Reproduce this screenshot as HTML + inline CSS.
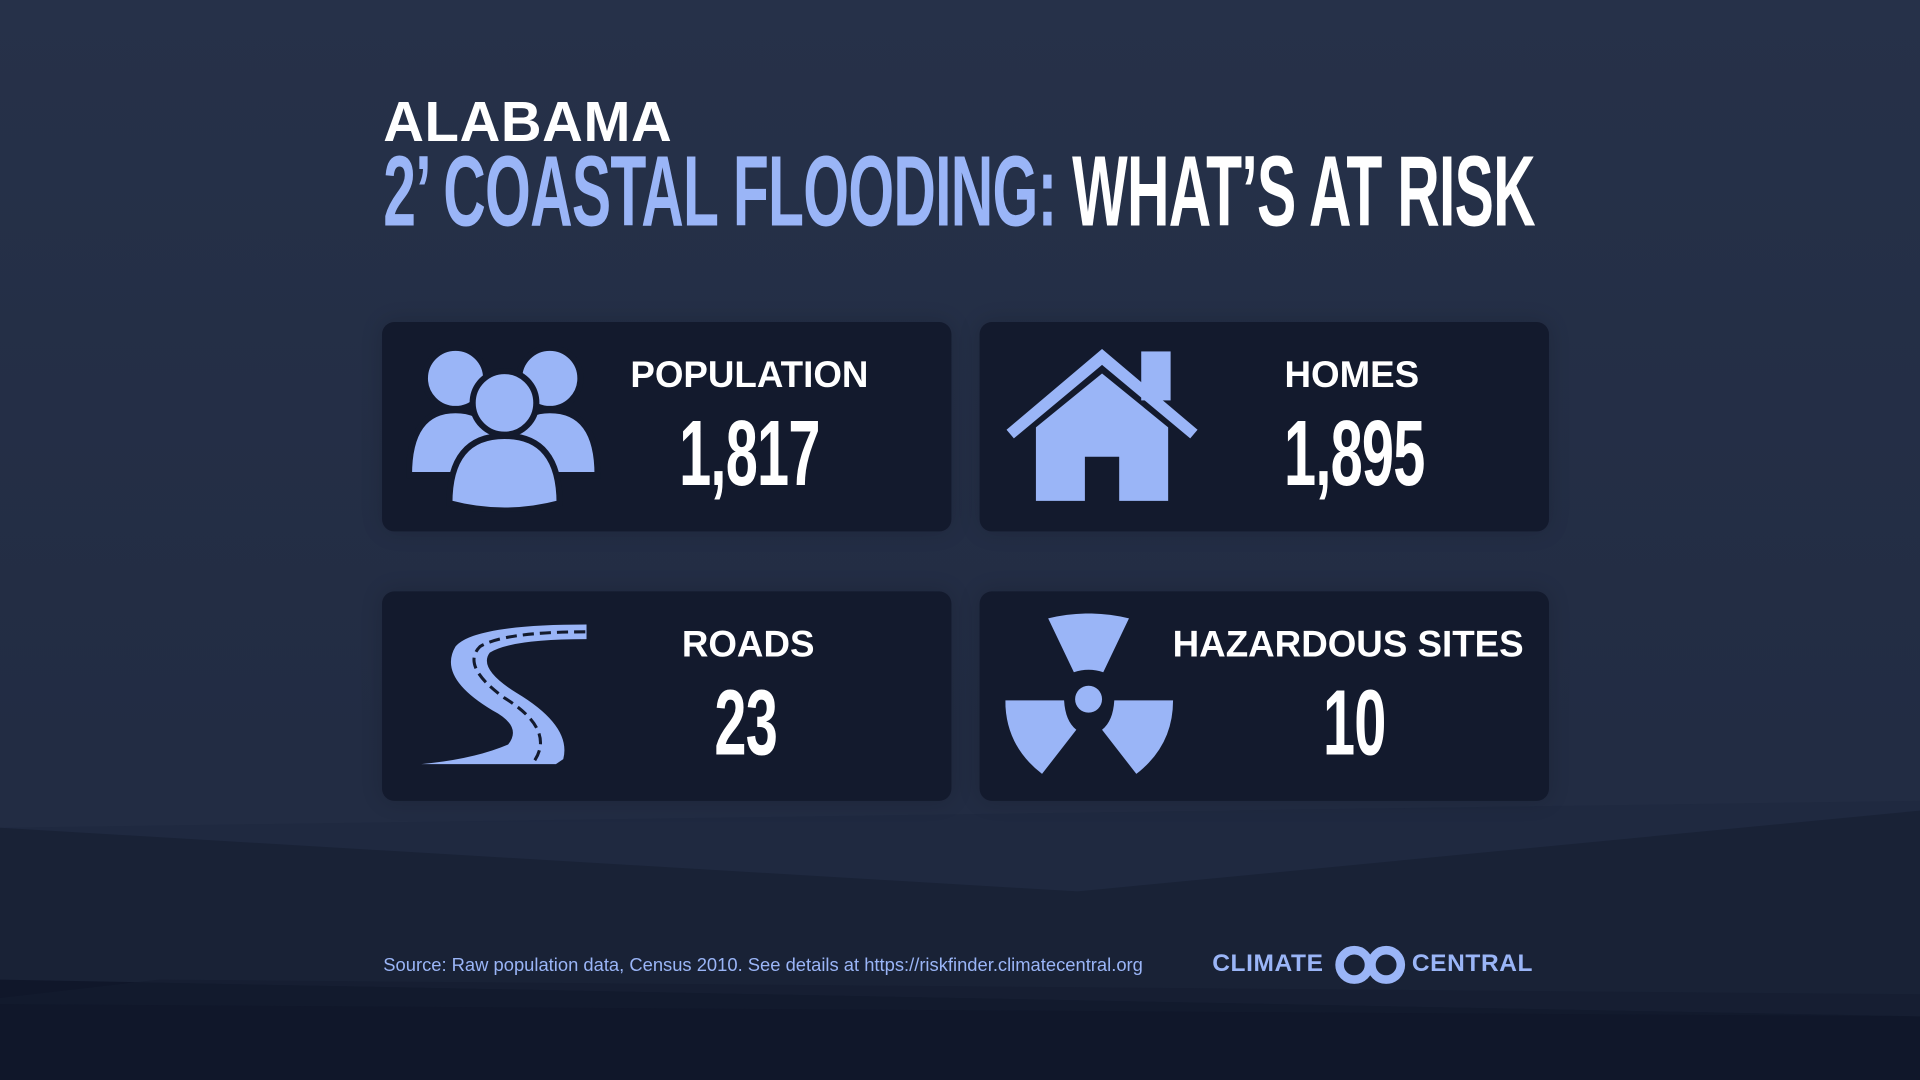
<!DOCTYPE html>
<html><head><meta charset="utf-8"><style>
html,body{margin:0;padding:0;width:1920px;height:1080px;overflow:hidden;background:#141b2d}
#stage{position:absolute;left:0;top:0;width:1568px;height:882px;transform:scale(1.22449);transform-origin:0 0;font-family:"Liberation Sans",sans-serif;background:linear-gradient(#263149,#222c43 70%)}
.abs{position:absolute}
.card{position:absolute;width:465px;height:171px;background:#131a2d;border-radius:10px;box-shadow:0 0 18px rgba(0,0,0,0.15)}
.lbl{position:absolute;color:#fff;font-weight:bold;font-size:30px;text-align:center;width:360px;top:27px;white-space:nowrap}
.num{position:absolute;color:#fff;font-weight:bold;font-size:76px;text-align:center;width:360px;top:64px;transform:scaleX(0.62);white-space:nowrap;letter-spacing:-1px}
</style></head><body>
<div id="stage">
<svg class="abs" style="left:0;top:0" width="1568" height="882">
<polygon points="0,676 1568,654 1568,882 0,882" fill="#1f2940"/>
<polygon points="0,676 880,728 1568,662 1568,882 0,882" fill="#192236"/>
<polygon points="0,800 1568,830 1568,882 0,882" fill="#10172a"/>
<polygon points="0,815 130,800 1568,812 1568,830 0,820" fill="#141c30" opacity="0.6"/>
</svg>
<div class="abs" style="left:313px;top:72px;color:#fff;font-weight:bold;font-size:46px;letter-spacing:0.5px">ALABAMA</div>
<div class="abs" style="left:313px;top:110px;font-weight:bold;font-size:82px;white-space:nowrap;transform:scaleX(0.586);transform-origin:0 0;letter-spacing:-1px"><span style="color:#9ab5f7">2’ COASTAL FLOODING:</span> <span style="color:#fff">WHAT’S AT RISK</span></div>

<div class="card" style="left:312px;top:263px">
<svg class="abs" style="left:20px;top:20px" width="160" height="135"><g fill="#9ab5f7" stroke="#131a2d" stroke-width="5">
<circle cx="40" cy="26" r="25"/><circle cx="117" cy="26" r="25"/>
<path d="M2,105 Q2,52 40,52 Q78,52 78,105 Z"/><path d="M80,105 Q80,52 117,52 Q156,52 156,105 Z"/>
<circle cx="80" cy="46" r="26"/><path d="M35,128 Q35,73 80,73 Q125,73 125,128 Q80,140 35,128 Z"/></g></svg>
<div class="lbl" style="left:120px">POPULATION</div>
<div class="num" id="v0" style="left:120px">1,817</div>
</div>
<div class="card" style="left:800px;top:263px">
<svg class="abs" style="left:22px;top:22px" width="160" height="130">
<path d="M0,66 L78,0 L156,66 L150,73 L78,13 L6,73 Z" fill="#9ab5f7"/><rect x="110" y="2" width="24" height="40" fill="#9ab5f7"/>
<path d="M24,64 L78,20 L132,64 L132,124 L92,124 L92,88 L64,88 L64,124 L24,124 Z" fill="#9ab5f7"/></svg>
<div class="lbl" style="left:124px">HOMES</div>
<div class="num" id="v1" style="left:126px">1,895</div>
</div>
<div class="card" style="left:312px;top:483px">
<svg class="abs" style="left:30px;top:25px" width="140" height="120">
<path d="M137,2 L137,14 Q75,14 58,25 Q48,38 80,58 Q125,85 118,112 L112,116 L2,116 Q45,112 73,100 Q85,85 60,72 Q15,45 30,20 Q45,2 137,2 Z" fill="#9ab5f7"/>
<path d="M136,8 Q70,8 50,20 Q34,36 70,62 Q112,88 94,114" fill="none" stroke="#131a2d" stroke-width="2.5" stroke-dasharray="9 5"/></svg>
<div class="lbl" style="left:119px">ROADS</div>
<div class="num" id="v2" style="left:117px">23</div>
</div>
<div class="card" style="left:800px;top:483px">
<svg class="abs" style="left:21px;top:18px" width="140" height="135"><g fill="#9ab5f7">
<path d="M35,4 Q68,-4 101,4 L80,48 Q68,44 56,48 Z"/>
<circle cx="68" cy="70" r="11"/>
<path d="M0,71 L48,71 Q49,88 58,95 L30,131 Q0,108 0,71 Z"/>
<path d="M137,71 L89,71 Q88,88 79,95 L107,131 Q137,108 137,71 Z"/></g></svg>
<div class="lbl" style="left:121px">HAZARDOUS SITES</div>
<div class="num" id="v3" style="left:126px">10</div>
</div>

<div class="abs" style="left:313px;top:780px;color:#9ab5f7;font-size:15px;white-space:nowrap">Source: Raw population data, Census 2010. See details at https://riskfinder.climatecentral.org</div>
<div class="abs" style="left:990px;top:776px;color:#9ab5f7;font-weight:bold;font-size:20px;letter-spacing:0.5px">CLIMATE</div>
<svg class="abs" style="left:1089px;top:772px" width="60" height="32"><g fill="none" stroke="#9ab5f7" stroke-width="7"><circle cx="17" cy="16" r="12"/><circle cx="43" cy="16" r="12"/></g></svg>
<div class="abs" style="left:1153px;top:776px;color:#9ab5f7;font-weight:bold;font-size:20px;letter-spacing:0.5px">CENTRAL</div>
</div>
<script>
const categories = ["Population","Homes","Roads","Hazardous Sites"];
const values = [1817, 1895, 23, 10];
values.forEach(function(v,i){document.getElementById('v'+i).textContent = v.toLocaleString('en-US');});
</script>
</body></html>
